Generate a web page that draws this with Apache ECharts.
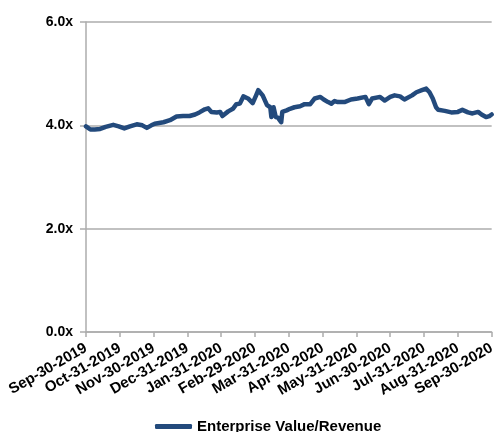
<!DOCTYPE html>
<html>
<head>
<meta charset="utf-8">
<script src="https://cdn.jsdelivr.net/npm/echarts@6/dist/echarts.min.js"></script>
<style>
  html, body { margin: 0; padding: 0; background: #fff; }
  #chart { width: 498px; height: 432px; }
</style>
</head>
<body>
<div id="chart"></div>
<script>
// Month-end labels along the horizontal axis
const tickLabels = [
  'Sep-30-2019', 'Oct-31-2019', 'Nov-30-2019', 'Dec-31-2019', 'Jan-31-2020',
  'Feb-29-2020', 'Mar-31-2020', 'Apr-30-2020', 'May-31-2020', 'Jun-30-2020',
  'Jul-31-2020', 'Aug-31-2020', 'Sep-30-2020'
];

const seriesName = 'Enterprise Value/Revenue';

// Observation dates
const dates = [
  '2019-09-30', '2019-10-04', '2019-10-08', '2019-10-13', '2019-10-18', '2019-10-25', '2019-10-30',
  '2019-11-04', '2019-11-09', '2019-11-15', '2019-11-20', '2019-11-24', '2019-11-28',
  '2019-12-01', '2019-12-09', '2019-12-15', '2019-12-21', '2019-12-27',
  '2020-01-02', '2020-01-07', '2020-01-11', '2020-01-16', '2020-01-19', '2020-01-22', '2020-01-27', '2020-01-30',
  '2020-02-01', '2020-02-06', '2020-02-10', '2020-02-13', '2020-02-16', '2020-02-19', '2020-02-23', '2020-02-27',
  '2020-03-01', '2020-03-03', '2020-03-07', '2020-03-11', '2020-03-14', '2020-03-15', '2020-03-17', '2020-03-19',
  '2020-03-21', '2020-03-24', '2020-03-25', '2020-03-29',
  '2020-04-01', '2020-04-05', '2020-04-10', '2020-04-14', '2020-04-19', '2020-04-23', '2020-04-28',
  '2020-05-01', '2020-05-05', '2020-05-08', '2020-05-11', '2020-05-14', '2020-05-20', '2020-05-26',
  '2020-06-01', '2020-06-08', '2020-06-11', '2020-06-14', '2020-06-21', '2020-06-25', '2020-06-30',
  '2020-07-04', '2020-07-09', '2020-07-13', '2020-07-20', '2020-07-24', '2020-07-29',
  '2020-08-02', '2020-08-05', '2020-08-08', '2020-08-11', '2020-08-13', '2020-08-19', '2020-08-25', '2020-08-31',
  '2020-09-04', '2020-09-09', '2020-09-13', '2020-09-18', '2020-09-21', '2020-09-25', '2020-09-28', '2020-09-30'
];

// Enterprise value / revenue multiple on each date
const evRevenue = [
  3.98, 3.92, 3.92, 3.93, 3.97, 4.01, 3.98,
  3.94, 3.98, 4.02, 4.00, 3.95, 4.00,
  4.03, 4.06, 4.10, 4.17, 4.18,
  4.18, 4.21, 4.25, 4.31, 4.33, 4.26, 4.25, 4.26,
  4.18, 4.27, 4.32, 4.41, 4.42, 4.56, 4.52, 4.43,
  4.58, 4.68, 4.58, 4.39, 4.35, 4.16, 4.35, 4.16,
  4.15, 4.06, 4.26, 4.29,
  4.32, 4.35, 4.37, 4.41, 4.41, 4.52, 4.55,
  4.50, 4.45, 4.42, 4.47, 4.45, 4.45, 4.50,
  4.52, 4.55, 4.41, 4.52, 4.55, 4.48, 4.55,
  4.58, 4.56, 4.50, 4.58, 4.64, 4.68,
  4.71, 4.64, 4.52, 4.35, 4.30, 4.28, 4.25, 4.26,
  4.30, 4.25, 4.23, 4.26, 4.21, 4.16, 4.18, 4.21
];

// Position of a date measured in months from Sep-30-2019,
// so that every month-end falls on a whole number.
function monthPosition(iso) {
  const [y, m, d] = iso.split('-').map(Number);
  const daysInMonth = new Date(y, m, 0).getDate();
  const idx = (y - 2019) * 12 + (m - 10);
  return idx + d / daysInMonth;
}

const points = dates.map((d, i) => [monthPosition(d), evRevenue[i]]);

const axisGray = '#ACACAC';
const fontFamily = 'Liberation Sans, Arial, sans-serif';

const chart = echarts.init(document.getElementById('chart'), null, { renderer: 'canvas' });
chart.setOption({
  animation: false,
  backgroundColor: '#fff',
  grid: { left: 86, right: 6, top: 22, bottom: 100, containLabel: false },
  xAxis: {
    type: 'value',
    min: 0,
    max: tickLabels.length - 1,
    interval: 1,
    axisLine: { show: true, lineStyle: { color: axisGray, width: 1.5 } },
    axisTick: { show: true, length: 5, lineStyle: { color: axisGray, width: 1.5 } },
    splitLine: { show: false },
    axisLabel: {
      rotate: 30,
      margin: 15,
      showMinLabel: true,
      showMaxLabel: true,
      color: '#000',
      fontWeight: 'bold',
      fontSize: 15,
      fontFamily: fontFamily,
      formatter: v => tickLabels[Math.round(v)] || ''
    }
  },
  yAxis: {
    type: 'value',
    min: 0,
    max: 6,
    interval: 2,
    axisLine: { show: true, lineStyle: { color: axisGray, width: 1.5 } },
    axisTick: { show: true, length: 6, lineStyle: { color: axisGray, width: 1.5 } },
    splitLine: { show: true, lineStyle: { color: axisGray, width: 1.5 } },
    axisLabel: {
      margin: 13,
      color: '#000',
      fontWeight: 'bold',
      fontSize: 14,
      fontFamily: fontFamily,
      formatter: v => v.toFixed(1) + 'x'
    }
  },
  legend: {
    left: 150,
    top: 414,
    icon: 'roundRect',
    itemWidth: 37,
    itemHeight: 5,
    textStyle: { color: '#000', fontWeight: 'bold', fontSize: 15, fontFamily: fontFamily },
    data: [seriesName]
  },
  series: [{
    name: seriesName,
    type: 'line',
    data: points,
    showSymbol: false,
    symbol: 'none',
    smooth: false,
    lineStyle: { color: '#234A7C', width: 4.5, cap: 'round', join: 'round' },
    itemStyle: { color: '#234A7C' }
  }]
});
</script>
</body>
</html>
